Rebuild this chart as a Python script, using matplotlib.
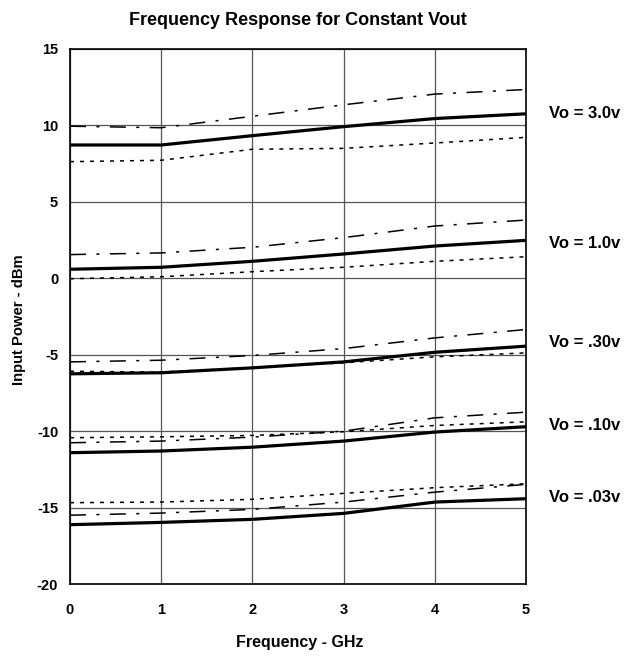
import matplotlib
matplotlib.use('Agg')
import matplotlib.pyplot as plt

plt.rcParams['font.family'] = ['Liberation Sans', 'DejaVu Sans']
plt.rcParams['font.weight'] = 'bold'
plt.rcParams['lines.scale_dashes'] = False
plt.rcParams['axes.unicode_minus'] = False

freq = [0, 1, 2, 3, 4, 5]
vo_labels = ['Vo = 3.0v', 'Vo = 1.0v', 'Vo = .30v', 'Vo = .10v', 'Vo = .03v']

vo300_solid = [8.72, 8.72, 9.33, 9.92, 10.45, 10.76]
vo300_dashdot = [9.95, 9.85, 10.6, 11.35, 12.05, 12.35]
vo300_dotted = [7.63, 7.72, 8.44, 8.5, 8.85, 9.22]

vo100_solid = [0.59, 0.72, 1.11, 1.59, 2.11, 2.48]
vo100_dashdot = [1.55, 1.66, 2.03, 2.66, 3.42, 3.81]
vo100_dotted = [-0.03, 0.1, 0.43, 0.72, 1.11, 1.41]

vo030_solid = [-6.25, -6.18, -5.86, -5.47, -4.84, -4.44]
vo030_dashdot = [-5.47, -5.36, -5.05, -4.6, -3.9, -3.35]
vo030_dotted = [-6.08, -6.14, -5.84, -5.53, -5.14, -4.88]

vo010_solid = [-11.41, -11.3, -11.05, -10.65, -10.06, -9.71]
vo010_dashdot = [-10.76, -10.65, -10.39, -10.0, -9.13, -8.76]
vo010_dotted = [-10.43, -10.37, -10.28, -10.04, -9.63, -9.39]

vo003_solid = [-16.12, -15.97, -15.77, -15.38, -14.64, -14.42]
vo003_dashdot = [-15.5, -15.36, -15.12, -14.64, -13.99, -13.48]
vo003_dotted = [-14.68, -14.64, -14.46, -14.07, -13.7, -13.44]

label_y = [10.8, 2.3, -4.23, -9.6, -14.37]

groups = [
    (vo300_solid, vo300_dashdot, vo300_dotted),
    (vo100_solid, vo100_dashdot, vo100_dotted),
    (vo030_solid, vo030_dashdot, vo030_dotted),
    (vo010_solid, vo010_dashdot, vo010_dotted),
    (vo003_solid, vo003_dashdot, vo003_dotted),
]

W, H = 626, 656
fig = plt.figure(figsize=(W / 100, H / 100), dpi=100)
ax = fig.add_axes([70 / W, 1 - 584 / H, 456 / W, 535 / H])

for (s, dd, dt), lab, ly in zip(groups, vo_labels, label_y):
    ax.plot(freq, dd, color='black', lw=1.1, dashes=(11.5, 7.5, 2.2, 7.5))
    ax.plot(freq, dt, color='black', lw=1.1, dashes=(2.9, 4.3))
    ax.plot(freq, s, color='black', lw=2.3, solid_capstyle='butt')
    ax.text(5.25, ly, lab, fontsize=12, fontweight='bold', ha='left', va='center',
            clip_on=False)

ax.set_xlim(0, 5)
ax.set_ylim(-20, 15)
ax.set_xticks(range(0, 6))
ax.set_yticks(range(-20, 16, 5))
ax.grid(True, color='#555555', lw=0.9)
ax.set_axisbelow(True)
for sp in ax.spines.values():
    sp.set_linewidth(1.2)
    sp.set_color('black')
ax.tick_params(axis='both', length=0, labelsize=10.5)
ax.tick_params(axis='x', pad=14)
ax.tick_params(axis='y', pad=8.5)
for t in ax.get_xticklabels() + ax.get_yticklabels():
    t.set_fontweight('bold')

fig.text(298 / W, 1 - 25 / H, 'Frequency Response for Constant Vout', fontsize=13,
         fontweight='bold', ha='center', va='baseline')
fig.text(300 / W, 1 - 647 / H, 'Frequency - GHz', fontsize=11.5,
         fontweight='bold', ha='center', va='baseline')
fig.text(19.5 / W, 1 - 320 / H, 'Input Power - dBm', fontsize=10.6,
         fontweight='bold', ha='center', va='center', rotation=90)

fig.savefig('out.png', dpi=100)
